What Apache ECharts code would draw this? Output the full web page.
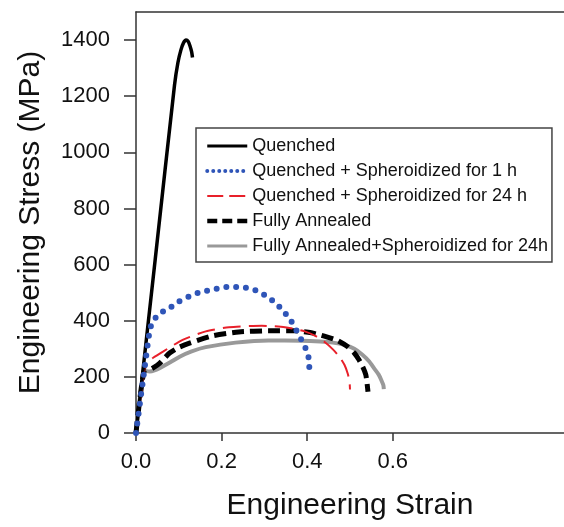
<!DOCTYPE html>
<html>
<head>
<meta charset="utf-8">
<script src="https://cdn.jsdelivr.net/npm/echarts@6/dist/echarts.min.js"></script>
<style>
  html, body { margin: 0; padding: 0; background: #fff; }
  #chart { width: 564px; height: 527px; }
</style>
</head>
<body>
<div id="chart"></div>
<script>
// 数据 (strain, stress in MPa)
const seriesNames = [
  'Quenched',
  'Quenched + Spheroidized for 1 h',
  'Quenched + Spheroidized for 24 h',
  'Fully Annealed',
  'Fully Annealed+Spheroidized for 24h'
]

const quenchedStrain = [0, 0.045, 0.09, 0.098, 0.105, 0.111, 0.117, 0.122, 0.126, 0.13, 0.132]
const quenchedStress = [0, 620, 1240, 1320, 1365, 1390, 1400, 1395, 1380, 1358, 1338]

const sph1Strain = [0, 0.02, 0.032, 0.039, 0.055, 0.077, 0.1, 0.123, 0.146, 0.169, 0.191, 0.213, 0.236, 0.258, 0.28, 0.302, 0.323, 0.344, 0.362, 0.375, 0.387, 0.398, 0.404, 0.405]
const sph1Stress = [0, 230, 365, 397, 425, 444, 468, 486, 500, 508, 515, 520, 520, 517, 508, 490, 467, 435, 400, 365, 330, 296, 263, 225]

const sph24Strain = [0, 0.02, 0.025, 0.04, 0.063, 0.109, 0.163, 0.217, 0.294, 0.348, 0.394, 0.42, 0.44, 0.46, 0.475, 0.487, 0.495, 0.499, 0.5]
const sph24Stress = [0, 230, 251, 268, 290, 332, 362, 377, 382, 377, 362, 345, 325, 298, 272, 243, 210, 180, 155]

const annealStrain = [0, 0.021, 0.03, 0.04, 0.055, 0.0785, 0.1, 0.125, 0.179, 0.24, 0.309, 0.371, 0.41, 0.44, 0.47, 0.494, 0.51, 0.521, 0.53, 0.537, 0.54, 0.542]
const annealStress = [0, 228, 225, 232, 248, 285, 305, 320, 346, 360, 364, 364, 357, 345, 330, 308, 285, 261, 235, 207, 175, 147]

const annealSphStrain = [0, 0.02, 0.032, 0.045, 0.055, 0.08, 0.102, 0.13, 0.163, 0.2325, 0.309, 0.386, 0.43, 0.46, 0.487, 0.51, 0.529, 0.545, 0.556, 0.567, 0.573, 0.578, 0.579]
const annealSphStress = [0, 222, 219, 224, 231, 252, 272, 291, 306, 322, 330, 329, 326, 322, 314, 300, 279, 255, 231, 208, 189, 170, 156]

const xTicks = [0, 0.2, 0.4, 0.6]
const yTicks = [0, 200, 400, 600, 800, 1000, 1200, 1400]

function pairs(xs, ys) {
  return xs.map((x, i) => [x, ys[i]])
}

const chart = echarts.init(document.getElementById('chart'))
const font = '"Liberation Sans", Arial, sans-serif'
const axisColor = '#333'

// 图例线宽
const legendLines = [
  { width: 3 },
  { width: 4, type: [0, 6], cap: 'round' },
  { width: 2, type: [16, 6] },
  { width: 4.5, type: [10, 5] },
  { width: 3 }
]

const option = {
  animation: false,
  textStyle: { fontFamily: font },
  grid: {
    left: 136,
    top: 12,
    right: -5,
    bottom: 94
  },
  legend: {
    data: seriesNames.map((name, i) => ({ name: name, lineStyle: legendLines[i] })),
    orient: 'vertical',
    left: 196,
    top: 128,
    padding: [9, 4, 7, 9],
    itemWidth: 40,
    itemHeight: 14,
    itemGap: 7,
    itemStyle: { opacity: 0 },
    borderColor: '#444',
    borderWidth: 1.5,
    backgroundColor: '#fff',
    textStyle: { fontSize: 18, color: '#111', fontFamily: font }
  },
  xAxis: [
    {
      type: 'value',
      min: 0,
      max: 1.0,
      interval: 0.2,
      name: 'Engineering Strain',
      nameLocation: 'middle',
      nameGap: 58,
      nameTextStyle: { fontSize: 30, color: '#111' },
      axisLine: { lineStyle: { color: axisColor, width: 1.5 } },
      axisTick: { show: true, length: 8, customValues: xTicks, lineStyle: { color: axisColor, width: 1.5 } },
      axisLabel: {
        customValues: xTicks,
        fontSize: 22,
        color: '#111',
        margin: 18,
        formatter: v => v.toFixed(1)
      },
      splitLine: { show: false }
    },
    {
      // top frame line only
      type: 'value',
      position: 'top',
      min: 0,
      max: 1.0,
      axisLine: { show: true, lineStyle: { color: axisColor, width: 1.5 } },
      axisTick: { show: false },
      axisLabel: { show: false },
      splitLine: { show: false }
    }
  ],
  yAxis: {
    type: 'value',
    min: 0,
    max: 1500,
    interval: 100,
    name: 'Engineering Stress (MPa)',
    nameLocation: 'middle',
    nameGap: 90,
    nameTextStyle: { fontSize: 30, color: '#111' },
    axisLine: { show: true, lineStyle: { color: axisColor, width: 1.5 } },
    axisTick: { show: true, length: 12, customValues: yTicks, lineStyle: { color: axisColor, width: 1.5 } },
    axisLabel: { customValues: yTicks, fontSize: 22, color: '#111', margin: 26, formatter: v => String(v) },
    splitLine: { show: false }
  },
  series: [
    {
      name: seriesNames[0],
      type: 'line',
      z: 5,
      symbol: 'none',
      smooth: 0.2,
      data: pairs(quenchedStrain, quenchedStress),
      itemStyle: { color: '#000' },
      lineStyle: { color: '#000', width: 3.5 }
    },
    {
      name: seriesNames[1],
      type: 'line',
      z: 6,
      symbol: 'none',
      smooth: 0.2,
      data: pairs(sph1Strain, sph1Stress),
      itemStyle: { color: '#2f55b8' },
      lineStyle: { color: '#2f55b8', width: 6, type: [0, 9.8], cap: 'round' }
    },
    {
      name: seriesNames[2],
      type: 'line',
      z: 4,
      symbol: 'none',
      smooth: 0.2,
      data: pairs(sph24Strain, sph24Stress),
      itemStyle: { color: '#e8202a' },
      lineStyle: { color: '#e8202a', width: 2, type: [18, 8] }
    },
    {
      name: seriesNames[3],
      type: 'line',
      z: 3,
      symbol: 'none',
      smooth: 0.2,
      data: pairs(annealStrain, annealStress),
      itemStyle: { color: '#000' },
      lineStyle: { color: '#000', width: 5, type: [12, 6] }
    },
    {
      name: seriesNames[4],
      type: 'line',
      z: 2,
      symbol: 'none',
      smooth: 0.2,
      data: pairs(annealSphStrain, annealSphStress),
      itemStyle: { color: '#999' },
      lineStyle: { color: '#999', width: 4 }
    }
  ]
}

chart.setOption(option)
</script>
</body>
</html>
